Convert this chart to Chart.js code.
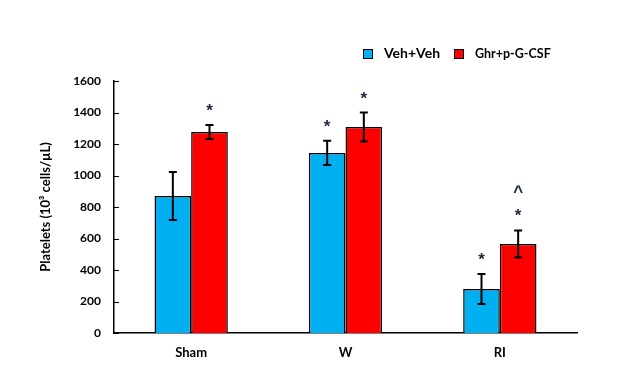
<!DOCTYPE html>
<html>
<head>
<meta charset="utf-8">
<script src="https://cdn.jsdelivr.net/npm/chart.js@4/dist/chart.umd.min.js"></script>
<style>
  html, body { margin: 0; padding: 0; background: #fff; }
  #wrap { width: 643px; height: 369px; }
</style>
</head>
<body>
<div id="wrap"><canvas id="chart" width="643" height="369"></canvas></div>
<script>
// data
const groups = ['Sham', 'W', 'RI'];
const vehVals = [870, 1143, 279];
const vehErr  = [152, 77, 95];
const ghrVals = [1276, 1308, 565];
const ghrErr  = [45, 92, 86];
const vehMarks = ['', '*', '*'];
const ghrMarks = [['*'], ['*'], ['*', '^']];
const yTicks = [0, 200, 400, 600, 800, 1000, 1200, 1400, 1600];

const FONT = 'Lato, "Open Sans", sans-serif';

// error bars + significance marks
const errorBars = {
    id: 'errorBars',
    afterDatasetsDraw(chart) {
        const ctx = chart.ctx;
        const y = chart.scales.y;
        chart.data.datasets.forEach((ds, di) => {
            const meta = chart.getDatasetMeta(di);
            meta.data.forEach((bar, i) => {
                const v = ds.data[i], e = ds.err[i];
                const top = y.getPixelForValue(v + e);
                const bot = y.getPixelForValue(v - e);
                ctx.save();
                ctx.strokeStyle = '#000';
                ctx.lineWidth = 2;
                ctx.beginPath();
                ctx.moveTo(bar.x, top); ctx.lineTo(bar.x, bot);
                ctx.moveTo(bar.x - 4, top); ctx.lineTo(bar.x + 4, top);
                ctx.moveTo(bar.x - 4, bot); ctx.lineTo(bar.x + 4, bot);
                ctx.stroke();

                let marks = ds.marks[i];
                if (!Array.isArray(marks)) marks = marks ? [marks] : [];
                ctx.fillStyle = '#1c2640';
                ctx.textAlign = 'center';
                ctx.textBaseline = 'alphabetic';
                ctx.font = 'bold 17px "Liberation Sans", sans-serif';
                marks.forEach((m, k) => {
                    ctx.fillText(m, bar.x, top - 9 - k * 24);
                });
                ctx.restore();
            });
        });
    }
};

// inward tick marks on the y axis
const innerTicks = {
    id: 'innerTicks',
    afterDraw(chart) {
        const ctx = chart.ctx;
        const y = chart.scales.y;
        ctx.save();
        ctx.strokeStyle = '#000';
        ctx.lineWidth = 1;
        y.ticks.forEach(t => {
            const py = Math.round(y.getPixelForValue(t.value)) + 0.5;
            ctx.beginPath();
            ctx.moveTo(y.right, py);
            ctx.lineTo(y.right + 5, py);
            ctx.stroke();
        });
        ctx.restore();
    }
};

// legend drawn by hand so each label keeps its own size
const customLegend = {
    id: 'customLegend',
    afterDraw(chart) {
        const ctx = chart.ctx;
        const items = [
            { x: 363, size: 14, ds: 0 },
            { x: 454, size: 12.5, ds: 1 }
        ];
        ctx.save();
        items.forEach(it => {
            const ds = chart.data.datasets[it.ds];
            ctx.fillStyle = ds.backgroundColor;
            ctx.fillRect(it.x, 49, 9, 9);
            ctx.strokeStyle = '#000';
            ctx.lineWidth = 1;
            ctx.strokeRect(it.x + 0.5, 49.5, 9, 9);
            ctx.fillStyle = '#000';
            ctx.font = 'bold ' + it.size + 'px ' + FONT;
            ctx.textBaseline = 'alphabetic';
            ctx.fillText(ds.label, it.x + 21, 58);
        });
        ctx.restore();
    }
};

new Chart(document.getElementById('chart'), {
    type: 'bar',
    data: {
        labels: groups,
        datasets: [
            { label: 'Veh+Veh', data: vehVals, err: vehErr, marks: vehMarks,
              backgroundColor: '#00B0F0', borderColor: '#000', borderWidth: 1.5,
              categoryPercentage: 0.475, barPercentage: 1 },
            { label: 'Ghr+p-G-CSF', data: ghrVals, err: ghrErr, marks: ghrMarks,
              backgroundColor: '#FF0000', borderColor: '#000', borderWidth: 1.5,
              categoryPercentage: 0.475, barPercentage: 1 }
        ]
    },
    options: {
        responsive: false,
        animation: false,
        layout: { padding: { top: 81, right: 66, left: 0, bottom: 0 } },
        plugins: { legend: { display: false }, tooltip: { enabled: false } },
        scales: {
            x: {
                grid: { display: false, drawTicks: false },
                border: { display: true, color: '#000', width: 1.5 },
                ticks: { color: '#000', padding: 12, font: { family: FONT, size: 13, weight: 'bold' } },
                afterFit: s => { s.height = 36; }
            },
            y: {
                min: 0, max: 1600,
                afterBuildTicks: s => { s.ticks = yTicks.map(v => ({ value: v })); },
                grid: { display: false, drawTicks: false },
                border: { display: true, color: '#000', width: 1.5 },
                ticks: {
                    color: '#000', padding: 13,
                    font: { family: FONT, size: 12, weight: 'bold' },
                    callback: v => String(v)
                },
                title: {
                    display: true,
                    text: 'Platelets (10³ cells/µL)',
                    color: '#000',
                    padding: { top: 38, bottom: 0 },
                    font: { family: FONT, size: 13, weight: 'bold' }
                },
                afterFit: s => { s.width = 114; }
            }
        }
    },
    plugins: [errorBars, innerTicks, customLegend]
});
</script>
</body>
</html>
